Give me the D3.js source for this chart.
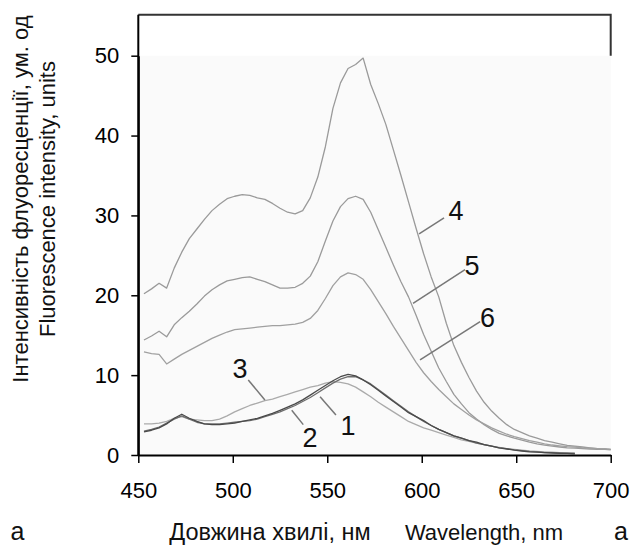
<!DOCTYPE html>
<html>
<head>
<meta charset="utf-8">
<script src="https://cdn.jsdelivr.net/npm/d3@7"></script>
<style>
  html, body { margin: 0; padding: 0; background: #fff; }
  svg { display: block; font-family: "Liberation Sans", Arial, sans-serif; }
</style>
</head>
<body>
<svg id="chart" width="632" height="546"></svg>
<script>
// ---------------- data ----------------
const wavelengths = [453,457,461,465,469,473,477,481,485,489,493,497,501,505,509,513,517,521,525,529,533,537,541,545,549,553,557,561,565,569,573,577,581,585,589,593,597,601,605,609,613,617,621,625,629,633,637,641,645,649,653,657,661,665,669,673,677,681,685,689,693,697,700];

const series4 = [20.2,20.8,21.5,20.9,23.4,25.4,27.1,28.3,29.5,30.6,31.4,32.1,32.4,32.6,32.5,32.2,32.0,31.5,30.9,30.4,30.2,30.6,32.2,34.8,38.6,43.4,46.6,48.4,48.9,49.7,46.4,44.0,41.4,38.2,35.0,31.7,28.4,25.2,22.3,19.8,16.5,13.7,11.6,9.7,8.0,6.6,5.5,4.6,3.8,3.2,2.8,2.4,2.1,1.8,1.6,1.4,1.2,1.1,1.0,0.9,0.8,0.75,0.7];
const series5 = [14.4,14.9,15.5,14.8,16.3,17.2,18.0,18.9,19.9,20.7,21.3,21.8,22.0,22.2,22.3,22.0,21.7,21.3,20.9,20.9,21.0,21.5,22.4,24.2,26.8,29.3,31.1,32.1,32.4,32.0,30.4,28.2,26.0,23.8,21.7,19.8,17.5,15.1,13.0,10.9,9.2,7.6,6.4,5.3,4.5,3.8,3.2,2.7,2.4,2.1,1.85,1.6,1.4,1.25,1.1,1.0,0.9,0.85,0.8,0.75,0.7,0.7,0.65];
const series6 = [12.9,12.7,12.6,11.4,12.0,12.6,13.1,13.6,14.1,14.6,15.0,15.4,15.7,15.8,15.9,16.0,16.1,16.2,16.2,16.3,16.4,16.6,17.1,18.1,19.6,21.2,22.3,22.8,22.6,22.0,20.7,19.2,17.7,16.1,14.6,13.1,11.6,10.3,9.2,8.2,7.3,6.4,5.7,5.0,4.4,3.9,3.4,3.0,2.6,2.3,2.05,1.8,1.6,1.4,1.25,1.15,1.05,1.0,0.9,0.85,0.8,0.75,0.7];
const series3 = [3.9,3.9,4.0,4.2,4.6,4.8,4.5,4.4,4.3,4.3,4.5,4.9,5.4,5.8,6.2,6.5,6.8,7.0,7.3,7.6,7.9,8.2,8.5,8.7,9.0,9.2,9.1,8.9,8.5,7.9,7.3,6.6,6.0,5.4,4.8,4.2,3.8,3.4,3.1,2.8,2.5,2.2,1.9,1.7,1.5,1.3,1.1,0.95,0.8,0.7,0.6,0.5,0.45,0.4,0.35,0.3,0.3,0.25,null,null,null,null,null];
const series2 = [2.9,3.1,3.4,3.9,4.6,5.1,4.6,4.2,3.9,3.8,3.8,3.9,4.0,4.2,4.4,4.6,4.9,5.2,5.6,6.0,6.4,6.9,7.5,8.1,8.7,9.3,9.8,10.1,9.9,9.4,8.8,8.1,7.4,6.7,6.0,5.3,4.8,4.3,3.7,3.2,2.8,2.4,2.1,1.8,1.6,1.3,1.1,0.9,0.75,0.6,0.5,0.4,0.35,0.3,0.25,0.2,0.2,0.15,null,null,null,null,null];
const series1 = [3.0,3.2,3.5,4.0,4.5,4.9,4.5,4.1,3.9,3.9,3.9,4.0,4.1,4.2,4.3,4.5,4.8,5.1,5.4,5.8,6.2,6.7,7.2,7.8,8.4,9.0,9.5,9.8,9.8,9.4,8.9,8.2,7.5,6.8,6.1,5.4,4.8,4.2,3.7,3.2,2.8,2.4,2.1,1.8,1.5,1.3,1.1,0.9,0.8,0.65,0.55,0.45,0.4,0.3,0.3,0.25,0.2,0.2,null,null,null,null,null];

const seriesNames = ["4","5","6","3","1","2"];
const seriesValues = [series4, series5, series6, series3, series1, series2];
const seriesColors = ["#9a9a9a","#9a9a9a","#a0a0a0","#aaaaaa","#6e6e6e","#4a4a4a"];

const xTicks = [450,500,550,600,650,700];
const yTicks = [0,10,20,30,40,50];

// curve number labels: [label, textX(nm), textY(value), leaderX1, leaderY1, leaderX2, leaderY2]
const curveLabels = [
  ["4", 618.1, 29.4, 598.6, 27.7, 611.8, 29.7],
  ["5", 626.6, 22.5, 595.4, 19.0, 622.9, 23.2],
  ["6", 634.8, 16.0, 599.1, 11.9, 630.9, 16.7],
  ["3", 503.8, 9.6, 508.2, 9.4, 517.0, 6.9],
  ["2", 540.9, 1.0, 531.2, 5.6, 537.3, 3.8],
  ["1", 561.0, 2.5, 546.2, 7.3, 554.6, 5.0]
];

// ---------------- layout ----------------
const L = 138.3, R = 610.7, B = 455, T50 = 55.7, FRAME_TOP = 14.7;
const svg = d3.select("#chart");
const x = d3.scaleLinear().domain([450,700]).range([L,R]);
const y = d3.scaleLinear().domain([0,50]).range([B,T50]);

// plot background
svg.append("rect").attr("x", L+1).attr("y", T50).attr("width", R-L-1).attr("height", B-T50)
  .attr("fill", "#fafafa");

// series
const line = d3.line()
  .defined(d => d[1] !== null)
  .x(d => x(d[0])).y(d => y(d[1]));

seriesValues.forEach((vals, i) => {
  const pts = wavelengths.map((w, j) => [w, vals[j]]);
  svg.append("path").datum(pts)
    .attr("fill","none").attr("stroke", seriesColors[i])
    .attr("stroke-width", 1.3).attr("stroke-linejoin","round")
    .attr("d", line);
});

// frame (top + right stub)
svg.append("path")
  .attr("d", `M${L},${FRAME_TOP}H${R}V${T50}`)
  .attr("fill","none").attr("stroke","#333").attr("stroke-width",2);
svg.append("line").attr("x1",L).attr("x2",L).attr("y1",FRAME_TOP).attr("y2",B)
  .attr("stroke","#000").attr("stroke-width",2);

// axes
const xAxis = svg.append("g").attr("transform",`translate(0,${B})`)
  .call(d3.axisBottom(x).tickValues(xTicks).tickSize(8).tickSizeOuter(0).tickPadding(19.5).tickFormat(d3.format("d")));
const yAxis = svg.append("g").attr("transform",`translate(${L},0)`)
  .call(d3.axisLeft(y).tickValues(yTicks).tickSize(7).tickSizeOuter(0).tickPadding(12).tickFormat(d3.format("d")));
[xAxis, yAxis].forEach(g => {
  g.select(".domain").attr("stroke","#000").attr("stroke-width",2);
  g.selectAll(".tick line").attr("stroke","#000").attr("stroke-width",1.5);
  g.selectAll(".tick text").attr("fill","#000").style("font-size","22px")
    .style("font-family",'"Liberation Sans", Arial, sans-serif');
});

// curve labels + leaders
curveLabels.forEach(c => {
  svg.append("line")
    .attr("x1", x(c[3])).attr("y1", y(c[4]))
    .attr("x2", x(c[5])).attr("y2", y(c[6]))
    .attr("stroke","#777").attr("stroke-width",1.5);
  svg.append("text").attr("x", x(c[1])).attr("y", y(c[2]))
    .attr("text-anchor","middle").style("font-size","27px").attr("fill","#111")
    .text(c[0]);
});

// axis titles
svg.append("text").attr("x", 270).attr("y", 540).attr("text-anchor","middle")
  .style("font-size", "23.5px").attr("fill","#111").text("Довжина хвилі, нм");
svg.append("text").attr("x", 484).attr("y", 540).attr("text-anchor","middle")
  .style("font-size", "22px").attr("fill","#111").text("Wavelength, nm");
svg.append("text").attr("x", 17.5).attr("y", 540).attr("text-anchor","middle")
  .style("font-size", "25px").attr("fill","#111").text("а");
svg.append("text").attr("x", 621).attr("y", 540).attr("text-anchor","middle")
  .style("font-size", "25px").attr("fill","#111").text("а");

svg.append("text").attr("transform","translate(28,199) rotate(-90)").attr("text-anchor","middle")
  .style("font-size", "22px").attr("fill","#111").text("Інтенсивність флуоресценції, ум. од");
svg.append("text").attr("transform","translate(55,199) rotate(-90)").attr("text-anchor","middle")
  .style("font-size", "22px").attr("fill","#111").text("Fluorescence intensity, units");
</script>
</body>
</html>
